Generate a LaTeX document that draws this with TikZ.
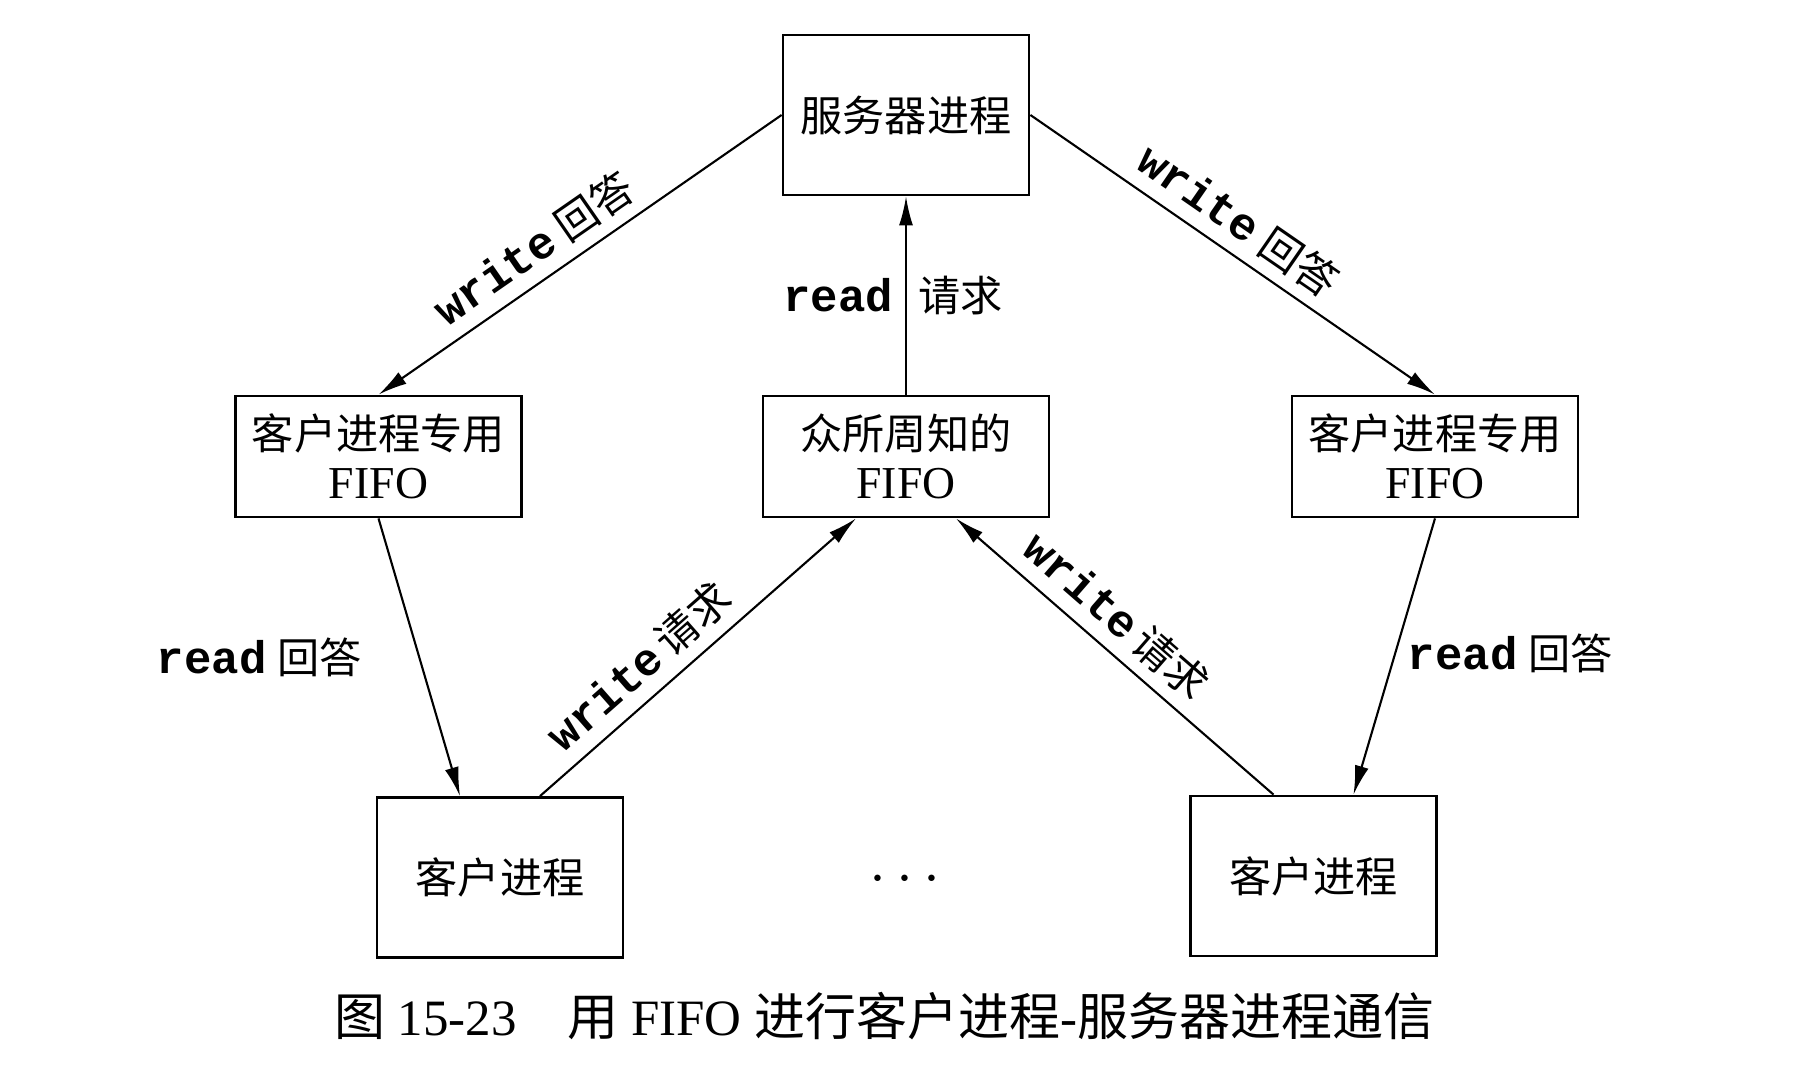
\documentclass[tikz,border=0pt]{standalone}
\usepackage{fontspec}
\setmainfont{Liberation Serif}
\setmonofont{Liberation Mono}
\newfontfamily\cjk{Noto Sans CJK SC}
\usetikzlibrary{arrows.meta}
\newcommand{\zh}[1]{{\cjk #1}}
\newcommand{\cmd}[1]{{\fontsize{13}{14}\selectfont\ttfamily\bfseries #1}}

\begin{document}
\begin{tikzpicture}[
        box/.style={draw, line width=0.8pt, align=center, inner sep=0pt,
          font=\fontsize{12}{14}\selectfont},
        proc/.style={box, minimum width=2.46cm, minimum height=1.6cm},
        fifo/.style={box, minimum width=2.86cm, minimum height=1.21cm},
        flow/.style={draw, line width=0.6pt, -{Latex[length=2.9mm,width=1.4mm]}},
        lbl/.style={font=\fontsize{12}{14}\selectfont}
      ]
      \useasboundingbox (0,0) rectangle (18.12,-10.74);
      % processes and fifos
      \node[proc] (server) at (9.06,-1.15) {\zh{服务器进程}};
      \node[fifo] (lfifo) at (3.785,-4.565) {\zh{客户进程专用}\\{\fontsize{13}{14}\selectfont FIFO}};
      \node[fifo] (mfifo) at (9.06,-4.565) {\zh{众所周知的}\\{\fontsize{13}{14}\selectfont FIFO}};
      \node[fifo] (rfifo) at (14.35,-4.565) {\zh{客户进程专用}\\{\fontsize{13}{14}\selectfont FIFO}};
      \node[proc] (lclient) at (5.0,-8.775) {\zh{客户进程}};
      \node[proc] (rclient) at (13.135,-8.76) {\zh{客户进程}};
      \node (dots) at (9.05,-8.8) {\fontsize{16}{16}\selectfont$\cdots$};
      % connectors
      \draw[flow] (server.west) -- node[lbl, sloped, above, pos=0.57] {\cmd{write} \zh{回答}} (lfifo.north);
      \draw[flow] (server.east) -- node[lbl, sloped, above, pos=0.47] {\cmd{write} \zh{回答}} (rfifo.north);
      \draw[flow] (mfifo.north) -- node[lbl, left, pos=0.5] {\cmd{read}}
        node[lbl, right, pos=0.5] {\zh{请求}} (server.south);
      \draw[flow] (lfifo.south) -- node[lbl, left=4.5mm, pos=0.5] {\cmd{read} \zh{回答}} ([xshift=-4mm]lclient.north);
      \draw[flow] ([xshift=4mm]lclient.north) -- node[lbl, sloped, above, pos=0.38] {\cmd{write}\,\zh{请求}} ([xshift=-5mm]mfifo.south);
      \draw[flow] ([xshift=-4mm]rclient.north) -- node[lbl, sloped, above, pos=0.56] {\cmd{write}\,\zh{请求}} ([xshift=5mm]mfifo.south);
      \draw[flow] (rfifo.south) -- node[lbl, right, pos=0.49] {\cmd{read} \zh{回答}} ([xshift=4mm]rclient.north);
      % caption
      \node (caption) at (8.84,-10.16) {\fontsize{14.5}{16}\selectfont \zh{图} 15-23\hspace{1em}\zh{用} FIFO \zh{进行客户进程}-\zh{服务器进程通信}};
    \end{tikzpicture}
\end{document}
